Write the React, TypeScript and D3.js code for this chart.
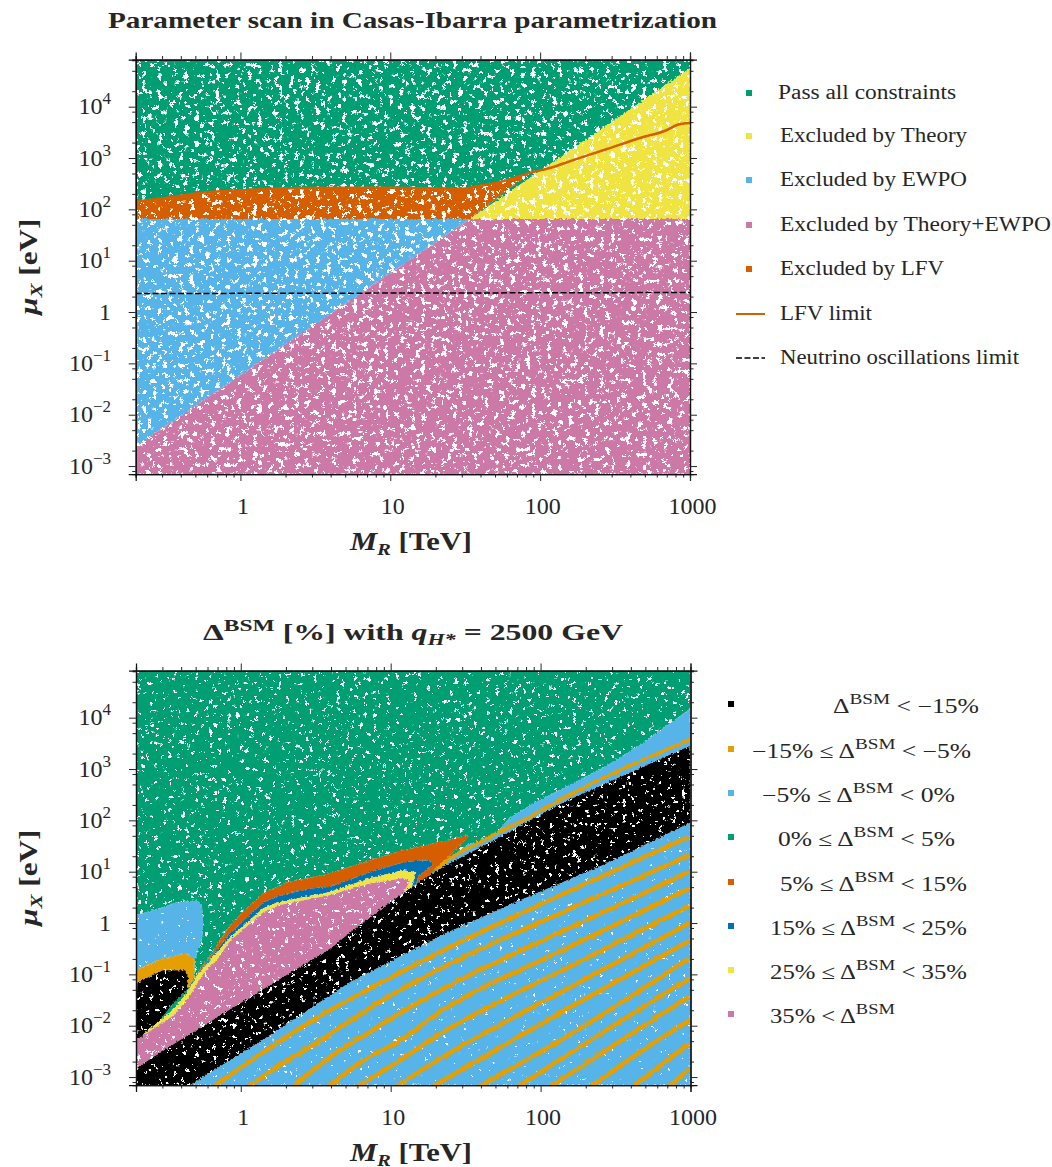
import { useEffect, useRef } from "react";
import * as d3 from "d3";

type Pt = [number, number];

const GREEN = "#009E73";
const YELLOW = "#F0E442";
const SKY = "#56B4E9";
const PINK = "#CC79A7";
const VERMILION = "#D55E00";
const AMBER = "#E69F00";
const DEEP = "#0072B2";
const INK = "#262626";
const FONT = '"Liberation Serif", serif';

// all region outlines below are [log10 MR/TeV, log10 muX/eV]
const xDomain: Pt = [0.2, 1000];
const yDomain: Pt = [7e-4, 8.3e4];
const xMajor = [1, 10, 100, 1000];
const xMajorLabels = ["1", "10", "100", "1000"];
const yExponents = [-3, -2, -1, 0, 1, 2, 3, 4];
const xSubs = [2, 3, 4, 5, 6, 7, 8, 9];
const ySubs = [2, 5, 8];

// top panel
const topAll: Pt[] = [[-0.7, -3.16], [-0.7, 4.92], [3, 4.92], [3, -3.16]];
const topBlue: Pt[] = [[-0.7, -2.62], [1.53, 1.81], [-0.7, 1.81]];
const topPink: Pt[] = [[-0.7, -3.16], [-0.7, -2.62], [1.53, 1.81], [3, 1.81], [3, -3.16]];
const topYellow: Pt[] = [[1.53, 1.81], [3, 4.75], [3, 1.81]];
const lfvLimit: Pt[] = [
  [-0.7, 2.15], [-0.5, 2.22], [-0.27, 2.32], [0, 2.37], [0.4, 2.415], [1, 2.42], [1.465, 2.4],
  [1.62, 2.47], [1.78, 2.57], [1.93, 2.71], [2.07, 2.81], [2.22, 2.96], [2.445, 3.175], [2.666, 3.39],
  [2.846, 3.546], [2.913, 3.643], [3, 3.68],
];
const topOrange: Pt[] = [...lfvLimit.slice(0, 10), [1.53, 1.81], [-0.7, 1.81]];
const nuLimit: Pt[] = [[-0.7, 0.36], [3, 0.38]];

// bottom panel
const blueBlob: Pt[] = [
  [-0.7, 0.15], [-0.54, 0.29], [-0.43, 0.4], [-0.29, 0.44], [-0.26, 0.35], [-0.25, -0.01],
  [-0.26, -0.34], [-0.31, -0.73], [-0.31, -1.06], [-0.7, -1.0],
];
const amberBlob: Pt[] = [
  [-0.7, -0.92], [-0.52, -0.69], [-0.36, -0.59], [-0.31, -0.73], [-0.31, -1.06], [-0.35, -1.25],
  [-0.4, -1.2], [-0.7, -1.2],
];
const blackBlob: Pt[] = [
  [-0.69, -1.16], [-0.52, -0.92], [-0.37, -0.92], [-0.35, -1.06], [-0.36, -1.31], [-0.45, -1.56],
  [-0.53, -1.86], [-0.66, -2.23], [-0.7, -2.29],
];
const vermilionBand: Pt[] = [
  [-0.35, -1.31], [-0.29, -0.98], [-0.19, -0.57], [-0.07, -0.04], [0.01, 0.21], [0.15, 0.58],
  [0.31, 0.8], [0.48, 0.89], [0.59, 0.97], [0.86, 1.22], [1.08, 1.42], [1.19, 1.48], [1.31, 1.57],
  [1.51, 1.71], [1.51, 1.65], [1.41, 1.36], [1.29, 1.03], [1.24, 0.85], [0.97, 0.1], [0.2, -0.9],
];
const deepBand: Pt[] = [
  [-0.34, -1.21], [-0.19, -0.63], [-0.07, -0.2], [0.15, 0.4], [0.26, 0.54], [0.48, 0.68],
  [0.59, 0.7], [0.86, 0.99], [1.08, 1.18], [1.19, 1.22], [1.26, 1.22], [1.28, 1.13], [1.19, 0.93],
  [1.15, 0.6], [0.97, 0.1], [0.2, -0.9],
];
const yellowBand: Pt[] = [
  [-0.66, -2.19], [-0.47, -1.74], [-0.36, -1.37], [-0.29, -1.02], [-0.19, -0.67], [-0.07, -0.28],
  [0.15, 0.29], [0.26, 0.41], [0.48, 0.54], [0.59, 0.6], [0.86, 0.87], [1.08, 1.03], [1.17, 0.99],
  [1.13, 0.6], [0.97, 0.1], [0.2, -0.9],
];
const pinkBody: Pt[] = [
  [-0.7, -2.29], [-0.45, -1.8], [-0.34, -1.42], [-0.25, -0.98], [-0.16, -0.72], [-0.07, -0.34],
  [0.15, 0.21], [0.26, 0.35], [0.48, 0.48], [0.59, 0.54], [0.86, 0.77], [1.08, 0.87], [1.13, 0.83],
  [1.03, 0.3], [0.73, -0.5], [0, -1.9], [-0.7, -3.05],
];
const skyBand: Pt[] = [
  [1.19, 0.75], [1.52, 1.55], [1.57, 1.57], [1.71, 1.77], [1.79, 2.04], [1.95, 2.33], [2.39, 2.98],
  [2.66, 3.46], [3, 4.18], [3, 3.3], [2.15, 2.2], [1.37, 1.0],
];
const blackEdgeUpper: Pt[] = [
  [-0.7, -2.83], [-0.41, -2.29], [0.08, -1.41], [0.61, -0.47], [0.73, -0.18], [0.97, 0.35],
  [1.19, 0.8], [1.37, 1.13], [1.66, 1.57], [2.15, 2.35], [3, 3.46],
];
const blackEdgeLower: Pt[] = [
  [-0.34, -3.16], [0.17, -2.23], [0.73, -1.15], [1.33, -0.25], [1.86, 0.44], [2.44, 1.16], [3, 1.96],
];
const amberEdge: Pt[] = [[1.3, 1.02], [1.37, 1.2], [1.61, 1.6], [1.91, 2.04], [2.15, 2.43], [3, 3.58]];
const stripes: Pt[][] = [
  [[-0.19, -3.2], [0.17, -2.48], [0.51, -1.84], [0.84, -1.31], [1.33, -0.565], [2.16, 0.58], [2.99, 1.68]],
  [[0.04, -3.2], [0.26, -2.77], [0.51, -2.33], [0.73, -1.9], [1.06, -1.31], [1.33, -0.89], [2.16, 0.23], [2.99, 1.32]],
  [[0.34, -3.2], [0.64, -2.52], [0.88, -2.09], [1.06, -1.76], [1.33, -1.31], [2.16, -0.14], [2.99, 0.995]],
  [[0.58, -3.2], [0.79, -2.73], [1.06, -2.29], [1.33, -1.73], [2.16, -0.51], [2.99, 0.67]],
  [[0.77, -3.2], [1.06, -2.68], [1.33, -2.16], [2.16, -0.9], [2.99, 0.33]],
  [[1.03, -3.2], [1.33, -2.64], [2.16, -1.31], [2.99, -0.01]],
  [[1.27, -3.2], [1.33, -3.1], [2.16, -1.7], [2.99, -0.35]],
  [[1.58, -3.2], [2.3, -1.99], [2.99, -0.69]],
  [[1.84, -3.2], [2.43, -2.1], [2.99, -1.08]],
  [[2.06, -3.2], [2.54, -2.28], [2.99, -1.44]],
  [[2.33, -3.2], [2.67, -2.5], [2.99, -1.9]],
  [[2.61, -3.2], [2.99, -2.35]],
  [[2.85, -3.2], [2.99, -2.84]],
];

const topLegend = [
  "Pass all constraints", "Excluded by Theory", "Excluded by EWPO", "Excluded by Theory+EWPO",
  "Excluded by LFV", "LFV limit", "Neutrino oscillations limit",
];
const topLegendColors = [GREEN, YELLOW, SKY, PINK, VERMILION, VERMILION, "#000"];
const topLegendY = [93, 136, 180, 225, 269, 314, 358];
const topLegendSpan: Pt[] = [[778, 178], [780, 187], [780, 187], [780, 271], [780, 164], [780, 92], [780, 239]];

const bottomLegendLeft = ["", "\u221215% \u2264 ", "\u22125% \u2264 ", "0% \u2264 ", "5% \u2264 ", "15% \u2264 ", "25% \u2264 ", "35% < "];
const bottomLegendRight = [" < \u221215%", " < \u22125%", " < 0%", " < 5%", " < 15%", " < 25%", " < 35%", ""];
const bottomLegendColors = ["#000", AMBER, SKY, GREEN, VERMILION, DEEP, YELLOW, PINK];
const bottomLegendY = [713, 758, 802, 846, 891, 935, 979, 1023];
const bottomLegendSpan: Pt[] = [[833, 146], [752, 219], [762, 193], [778, 177], [780, 187], [770, 197], [770, 197], [770, 131]];

type Part = { t: string; size?: number; weight?: string; style?: string; dy?: number };

function rich(parent: any, x: number, y: number, parts: Part[], anchor = "start", span?: number) {
  const el = parent.append("text")
    .attr("x", x).attr("y", y)
    .attr("text-anchor", anchor)
    .attr("fill", INK)
    .attr("font-family", FONT)
    .attr("xml:space", "preserve");
  parts.forEach(p => {
    const ts = el.append("tspan").text(p.t);
    if (p.size) ts.attr("font-size", p.size);
    if (p.weight) ts.attr("font-weight", p.weight);
    if (p.style) ts.attr("font-style", p.style);
    if (p.dy) ts.attr("dy", p.dy);
  });
  if (span) el.attr("textLength", span).attr("lengthAdjust", "spacingAndGlyphs");
  return el;
}

function addFilters(defs: any, id: string, w: number, h: number, freq: number, octaves: number, cut: number, seed: number) {
  const k = 28;
  const f = defs.append("filter").attr("id", id)
    .attr("filterUnits", "userSpaceOnUse")
    .attr("x", 0).attr("y", 0).attr("width", w).attr("height", h)
    .attr("color-interpolation-filters", "sRGB");
  f.append("feTurbulence").attr("type", "fractalNoise").attr("baseFrequency", freq)
    .attr("numOctaves", octaves).attr("seed", seed).attr("result", "n");
  f.append("feColorMatrix").attr("in", "n").attr("type", "matrix")
    .attr("values", `0 0 0 0 0  0 0 0 0 0  0 0 0 0 0  ${k} 0 0 0 ${-k * cut}`).attr("result", "holes");
  f.append("feComposite").attr("in", "SourceGraphic").attr("in2", "holes").attr("operator", "out");
}

function drawPanel(svg: any, left: number, top: number, right: number, bottom: number, id: string) {
  const x = d3.scaleLog().domain(xDomain).range([left, right]);
  const y = d3.scaleLog().domain(yDomain).range([bottom, top]);

  const clipId = `clip-${id}`;
  svg.select("defs").append("clipPath").attr("id", clipId)
    .append("rect").attr("x", left).attr("y", top).attr("width", right - left).attr("height", bottom - top);

  const outline = d3.line<Pt>().x(d => x(10 ** d[0])).y(d => y(10 ** d[1]));
  const plot = svg.append("g").attr("clip-path", `url(#${clipId})`);
  const body = plot.append("g").attr("filter", "url(#rough)");

  const region = (pts: Pt[], color: string, speck: string | null) => {
    const d = outline(pts) + "Z";
    body.append("path").attr("d", d).attr("fill", "#fff");
    const p = body.append("path").attr("d", d).attr("fill", color);
    if (speck) p.attr("filter", `url(#${speck})`);
  };
  const stroke = (pts: Pt[], color: string, w: number, target = body, curve: any = d3.curveMonotoneX) =>
    target.append("path")
      .attr("d", d3.line<Pt>().x(d => x(10 ** d[0])).y(d => y(10 ** d[1])).curve(curve)(pts))
      .attr("fill", "none").attr("stroke", color).attr("stroke-width", w);

  return { x, y, plot, region, stroke };
}

function drawAxes(svg: any, x: any, y: any, left: number, top: number, right: number, bottom: number) {
  const g = svg.append("g").attr("color", INK);
  const [d0, d1] = y.domain();
  const minorY: number[] = [];
  yExponents.concat([-4]).forEach(e => ySubs.forEach(s => {
    const v = s * 10 ** e;
    if (v >= d0 && v <= d1) minorY.push(v);
  }));
  const majorY = yExponents.map(e => 10 ** e);
  const minorX: number[] = [];
  [-1, 0, 1, 2].forEach(e => xSubs.forEach(s => {
    const v = s * 10 ** e;
    if (v >= xDomain[0] && v <= xDomain[1]) minorX.push(v);
  }));

  const place = (axis: any, tx: number, ty: number, values: number[], size: number) => {
    const a = g.append("g").attr("transform", `translate(${tx},${ty})`)
      .call(axis.tickValues(values).tickSize(size).tickFormat(() => ""));
    a.select(".domain").attr("stroke-width", 1.25).attr("stroke", "#111");
    a.selectAll("line").attr("stroke-width", 1).attr("stroke", INK);
  };
  place(d3.axisBottom(x), 0, bottom, minorX, 3.5);
  place(d3.axisBottom(x), 0, bottom, xMajor, 7);
  place(d3.axisTop(x), 0, top, minorX, 3.5);
  place(d3.axisTop(x), 0, top, xMajor, 7);
  place(d3.axisLeft(y), left, 0, minorY, 3.5);
  place(d3.axisLeft(y), left, 0, majorY, 7);
  place(d3.axisRight(y), right, 0, minorY, 3.5);
  place(d3.axisRight(y), right, 0, majorY, 7);

  xMajor.forEach((v, i) => {
    rich(g, x(v) + 2.5, bottom + 39.5, [{ t: xMajorLabels[i], size: 24 }], "middle");
  });
  yExponents.forEach(e => {
    const py = y(10 ** e) + 7.5;
    if (e === 0) rich(g, 111, py, [{ t: "1", size: 24 }], "end");
    else rich(g, 111, py, [
      { t: "10", size: 24 },
      { t: e < 0 ? `\u2212${-e}` : `${e}`, size: 17, dy: -10 },
    ], "end");
  });

  rich(g, 350, bottom + 76, [
    { t: "M", size: 25, weight: "bold", style: "italic" },
    { t: "R", size: 17, weight: "bold", style: "italic", dy: 5 },
    { t: " [TeV]", size: 25, weight: "bold", dy: -5 },
  ], "start", 122);

  const midY = (top + bottom) / 2;
  const yl = g.append("g").attr("transform", `translate(37,${midY}) rotate(-90)`);
  rich(yl, 0, 0, [
    { t: "\u03bc", size: 25, weight: "bold", style: "italic" },
    { t: "X", size: 17, weight: "bold", style: "italic", dy: 5 },
    { t: " [eV]", size: 25, weight: "bold", dy: -5 },
  ], "middle", 96);
}

export default function App() {
  const ref = useRef<SVGSVGElement>(null);

  useEffect(() => {
    if (!ref.current) return;
    const W = 1052, H = 1167;
    const svg = d3.select(ref.current);
    svg.selectAll("*").remove();
    const defs = svg.append("defs");

    // mottled gaps between scan points, and the rough edge of each region
    addFilters(defs, "speckDense", W, H, 0.19, 4, 0.61, 4);
    addFilters(defs, "speckMid", W, H, 0.22, 4, 0.66, 9);
    addFilters(defs, "speckThin", W, H, 0.28, 4, 0.75, 13);
    const rough = defs.append("filter").attr("id", "rough")
      .attr("filterUnits", "userSpaceOnUse")
      .attr("x", 0).attr("y", 0).attr("width", W).attr("height", H)
      .attr("color-interpolation-filters", "sRGB");
    rough.append("feTurbulence").attr("type", "fractalNoise").attr("baseFrequency", 0.55)
      .attr("numOctaves", 1).attr("seed", 2).attr("result", "r");
    rough.append("feDisplacementMap").attr("in", "SourceGraphic").attr("in2", "r")
      .attr("scale", 4).attr("xChannelSelector", "R").attr("yChannelSelector", "G");

    // ---- top panel
    const t = { l: 135.7, t: 59.5, r: 690, b: 474 };
    const a = drawPanel(svg, t.l, t.t, t.r, t.b, "top");
    a.region(topAll, GREEN, "speckDense");
    a.region(topOrange, VERMILION, "speckDense");
    a.region(topYellow, YELLOW, "speckDense");
    a.region(topBlue, SKY, "speckDense");
    a.region(topPink, PINK, "speckDense");
    a.stroke(lfvLimit, VERMILION, 2.5, a.plot);
    a.stroke(nuLimit, "#000", 1.5, a.plot, d3.curveLinear).attr("stroke-dasharray", "6,2.5");
    drawAxes(svg, a.x, a.y, t.l, t.t, t.r, t.b);

    rich(svg, 108, 28, [{ t: "Parameter scan in Casas-Ibarra parametrization", size: 23, weight: "bold" }], "start", 609);

    topLegend.forEach((label, i) => {
      const py = topLegendY[i];
      if (i < 5) {
        svg.append("rect").attr("x", 746).attr("y", py - 3).attr("width", 6).attr("height", 6)
          .attr("fill", topLegendColors[i]);
      } else {
        svg.append("path").attr("d", d3.line()([[736, py], [765, py]]))
          .attr("stroke", topLegendColors[i]).attr("stroke-width", i === 5 ? 2 : 1.5)
          .attr("stroke-dasharray", i === 5 ? null : "6,2.5");
      }
      rich(svg, topLegendSpan[i][0], py + 6, [{ t: label, size: 20 }], "start", topLegendSpan[i][1]);
    });

    // ---- bottom panel
    const b = { l: 136, t: 670.5, r: 690.5, b: 1085 };
    const c = drawPanel(svg, b.l, b.t, b.r, b.b, "bottom");
    c.region(topAll, GREEN, "speckMid");
    c.region(blueBlob, SKY, "speckThin");
    c.region(amberBlob, AMBER, null);
    c.region(blackBlob, "#000", "speckMid");
    c.region(vermilionBand, VERMILION, null);
    c.region(deepBand, DEEP, null);
    c.region(yellowBand, YELLOW, null);
    c.region(pinkBody, PINK, "speckMid");
    c.region(skyBand, SKY, null);
    c.region([[-0.7, -3.16], ...blackEdgeLower, [3, -3.16]], SKY, "speckThin");
    c.region([...blackEdgeUpper, ...[...blackEdgeLower].reverse(), [-0.7, -3.16]], "#000", "speckMid");
    c.stroke(amberEdge, AMBER, 3.5);
    stripes.forEach(s => c.stroke(s, AMBER, 4.5));
    drawAxes(svg, c.x, c.y, b.l, b.t, b.r, b.b);

    rich(svg, 203, 640, [
      { t: "\u0394", size: 24, weight: "bold" },
      { t: "BSM", size: 17, weight: "bold", dy: -9 },
      { t: " [%] with ", size: 23, weight: "bold", dy: 9 },
      { t: "q", size: 23, weight: "bold", style: "italic" },
      { t: "H*", size: 16, weight: "bold", style: "italic", dy: 5 },
      { t: " = 2500 GeV", size: 23, weight: "bold", dy: -5 },
    ], "start", 420);

    bottomLegendLeft.forEach((left, i) => {
      const py = bottomLegendY[i];
      svg.append("rect").attr("x", 728).attr("y", py - 12).attr("width", 6).attr("height", 6)
        .attr("fill", bottomLegendColors[i]);
      rich(svg, bottomLegendSpan[i][0], py, [
        { t: left + "\u0394", size: 20 },
        { t: "BSM", size: 15, dy: -9 },
        { t: bottomLegendRight[i] || " ", size: 20, dy: 9 },
      ], "start", bottomLegendSpan[i][1]);
    });
  }, []);

  return (
    <svg ref={ref} width={1052} height={1167} viewBox="0 0 1052 1167"
      style={{ position: "absolute", left: 0, top: 0, background: "#fff" }} />
  );
}
